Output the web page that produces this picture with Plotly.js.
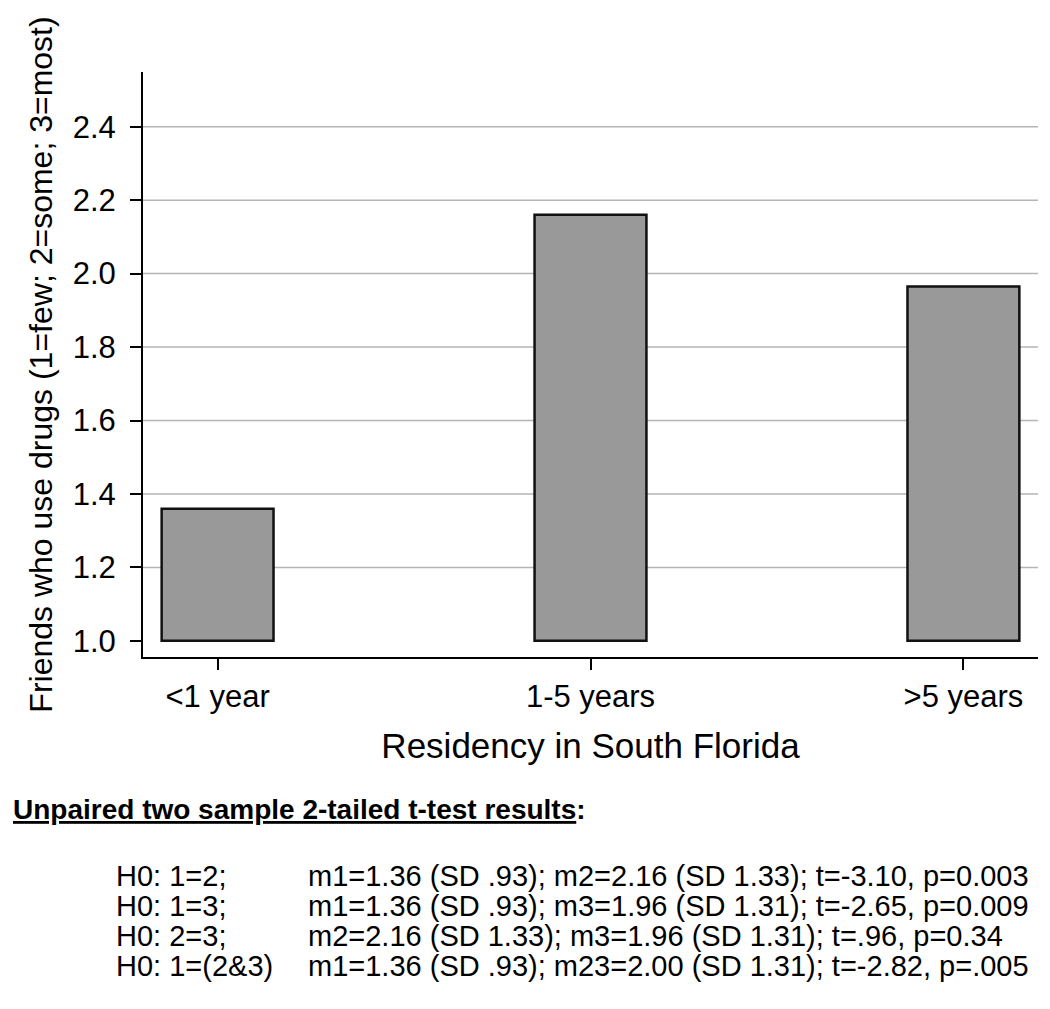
<!DOCTYPE html>
<html>
<head>
<meta charset="utf-8">
<script src="https://cdn.plot.ly/plotly-3.0.1.min.js"></script>
<style>html,body{margin:0;padding:0;background:#fff;}#chart{width:1050px;height:1009px;}</style>
</head>
<body>
<div id="chart"></div>
<script>
// ---- data ----
const categories = ['<1 year', '1-5 years', '>5 years'];
const meanFriends = [1.36, 2.16, 1.965];
const yTickVals = [1.0, 1.2, 1.4, 1.6, 1.8, 2.0, 2.2, 2.4];
const yTickText = ['1.0', '1.2', '1.4', '1.6', '1.8', '2.0', '2.2', '2.4'];
const gridVals = [1.2, 1.4, 1.6, 1.8, 2.0, 2.2, 2.4];
const testHeader = 'Unpaired two sample 2-tailed t-test results';
const hypotheses = ['H0: 1=2;', 'H0: 1=3;', 'H0: 2=3;', 'H0: 1=(2&3)'];
const testResults = [
  'm1=1.36 (SD .93); m2=2.16 (SD 1.33); t=-3.10, p=0.003',
  'm1=1.36 (SD .93); m3=1.96 (SD 1.31); t=-2.65, p=0.009',
  'm2=2.16 (SD 1.33); m3=1.96 (SD 1.31); t=.96, p=0.34',
  'm1=1.36 (SD .93); m23=2.00 (SD 1.31); t=-2.82, p=.005'
];

// ---- layout helpers (pixel -> paper) ----
const W = 1050, H = 1009;
const M = {l: 143, r: 12, t: 72, b: 352};
const plotW = W - M.l - M.r, plotH = H - M.t - M.b;
const px = x => (x - M.l) / plotW;
const py = y => (H - M.b - y) / plotH;

const FONT = '"Liberation Sans", Arial, Helvetica, sans-serif';

const trace = {
  type: 'bar',
  x: categories,
  y: meanFriends.map(v => v - 1),
  base: 1,
  width: 0.3,
  marker: {color: '#999999', line: {color: '#111111', width: 2.5}},
  hoverinfo: 'x+y'
};

const shapes = gridVals.map(v => ({
  type: 'line', xref: 'paper', yref: 'y', x0: 0, x1: 1, y0: v, y1: v,
  line: {color: '#b5b5b5', width: 1.5}, layer: 'below'
}));

const annotations = [];
annotations.push({
  xref: 'paper', yref: 'paper', x: px(11), y: py(809), xanchor: 'left', yanchor: 'middle',
  showarrow: false, align: 'left',
  text: '<b><span style="text-decoration:underline">' + testHeader + '</span>:</b>',
  font: {family: FONT, size: 28, color: '#000'}
});
const rowY = [876, 906, 936, 966];
hypotheses.forEach((h, i) => {
  annotations.push({
    xref: 'paper', yref: 'paper', x: px(114), y: py(rowY[i]), xanchor: 'left', yanchor: 'middle',
    showarrow: false, text: h.replace('&', '&amp;'), font: {family: FONT, size: 29, color: '#000'}
  });
  annotations.push({
    xref: 'paper', yref: 'paper', x: px(306), y: py(rowY[i]), xanchor: 'left', yanchor: 'middle',
    showarrow: false, text: testResults[i], font: {family: FONT, size: 29, color: '#000'}
  });
});

const layout = {
  width: W, height: H,
  margin: M,
  paper_bgcolor: '#ffffff', plot_bgcolor: '#ffffff',
  showlegend: false,
  font: {family: FONT, color: '#000'},
  xaxis: {
    type: 'category',
    range: [-0.2, 2.2],
    showgrid: false, zeroline: false,
    showline: true, linecolor: '#000', linewidth: 2,
    ticks: 'outside', ticklen: 11, tickwidth: 2, tickcolor: '#000',
    tickfont: {family: FONT, size: 31, color: '#000'},
    ticklabelstandoff: 0,
    title: {text: 'Residency in South Florida', font: {family: FONT, size: 35, color: '#000'}, standoff: 20},
    automargin: false, fixedrange: true
  },
  yaxis: {
    range: [0.956, 2.549],
    tickvals: yTickVals, ticktext: yTickText,
    showgrid: false, zeroline: false,
    showline: true, linecolor: '#000', linewidth: 2,
    ticks: 'outside', ticklen: 11, tickwidth: 2, tickcolor: '#000',
    tickfont: {family: FONT, size: 31, color: '#000'},
    ticklabelstandoff: 8,
    title: {text: 'Friends who use drugs (1=few; 2=some; 3=most)', font: {family: FONT, size: 32, color: '#000'}, standoff: 10},
    automargin: false, fixedrange: true
  },
  shapes: shapes,
  annotations: annotations
};

Plotly.newPlot('chart', [trace], layout, {displayModeBar: false, staticPlot: true});
</script>
</body>
</html>
